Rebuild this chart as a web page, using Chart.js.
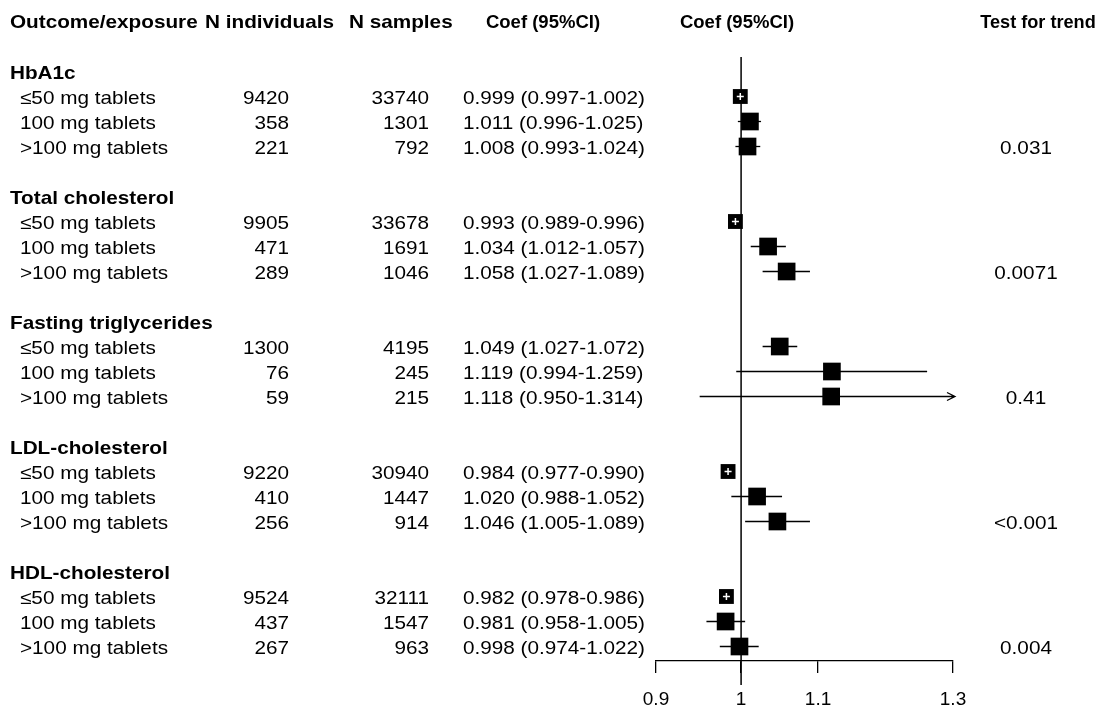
<!DOCTYPE html>
<html>
<head>
<meta charset="utf-8">
<script src="https://cdn.jsdelivr.net/npm/chart.js@4"></script>
<style>
  body { margin: 0; background: #fff; }
  #wrap { width: 1110px; height: 709px; position: relative; }
</style>
</head>
<body>
<div id="wrap"><canvas id="forest"></canvas></div>
<script>
// table data
var outcomes = ["HbA1c", "Total cholesterol", "Fasting triglycerides", "LDL-cholesterol", "HDL-cholesterol"];
var doses = ["≤50 mg tablets", "100 mg tablets", ">100 mg tablets"];
var nIndividuals = [9420, 358, 221, 9905, 471, 289, 1300, 76, 59, 9220, 410, 256, 9524, 437, 267];
var nSamples = [33740, 1301, 792, 33678, 1691, 1046, 4195, 245, 215, 30940, 1447, 914, 32111, 1547, 963];
var coef  = [0.999, 1.011, 1.008, 0.993, 1.034, 1.058, 1.049, 1.119, 1.118, 0.984, 1.020, 1.046, 0.982, 0.981, 0.998];
var lower = [0.997, 0.996, 0.993, 0.989, 1.012, 1.027, 1.027, 0.994, 0.950, 0.977, 0.988, 1.005, 0.978, 0.958, 0.974];
var upper = [1.002, 1.025, 1.024, 0.996, 1.057, 1.089, 1.072, 1.259, 1.314, 0.990, 1.052, 1.089, 0.986, 1.005, 1.022];
var trend = ["0.031", "0.0071", "0.41", "<0.001", "0.004"];
var xTicks = [0.9, 1, 1.1, 1.3];

// row index of each line in the table (header = 0, one blank row between groups)
function groupRow(g) { return 2 + g * 5; }
function itemRow(i) { return groupRow(Math.floor(i / 3)) + 1 + (i % 3); }

var FONT = '"Liberation Sans", Arial, sans-serif';
var ROW0 = 21.5, ROWH = 25, TOP = 57, BOTTOM = 661;

function txt(ctx, s, x, y, align, bold, sx) {
  ctx.save();
  ctx.translate(x, y + 2);
  ctx.scale(sx, 1);
  ctx.font = (bold ? "bold " : "") + "18.5px " + FONT;
  ctx.textAlign = align;
  ctx.textBaseline = "middle";
  ctx.fillStyle = "#000";
  ctx.fillText(s, 0, 0);
  ctx.restore();
}

function ciPx(chart, i) {
  var x = chart.scales.x;
  return x.getPixelForValue(upper[i]) - x.getPixelForValue(lower[i]);
}

var ciSets = coef.map(function (c, i) {
  return {
    type: "line",
    data: [{ x: lower[i], y: itemRow(i) }, { x: Math.min(upper[i], 1.3), y: itemRow(i) }],
    borderColor: "#000",
    borderWidth: 1.3,
    pointRadius: 0,
    clip: 4
  };
});

var forestPlugin = {
  id: "forest",
  beforeDatasetsDraw: function (chart) {
    var ctx = chart.ctx, x = chart.scales.x.getPixelForValue(1);
    ctx.save();
    ctx.strokeStyle = "#000";
    ctx.lineWidth = 1.5;
    ctx.beginPath();
    ctx.moveTo(x, chart.chartArea.top);
    ctx.lineTo(x, chart.chartArea.bottom + 24);
    ctx.stroke();
    ctx.restore();
  },
  afterDatasetsDraw: function (chart) {
    var ctx = chart.ctx, xs = chart.scales.x, ys = chart.scales.y;
    ctx.save();
    coef.forEach(function (c, i) {
      var px = xs.getPixelForValue(c), py = ys.getPixelForValue(itemRow(i));
      if (ciPx(chart, i) < 16) {
        ctx.strokeStyle = "#fff";
        ctx.lineWidth = 1.5;
        ctx.beginPath();
        ctx.moveTo(px - 3.5, py); ctx.lineTo(px + 3.5, py);
        ctx.moveTo(px, py - 3.5); ctx.lineTo(px, py + 3.5);
        ctx.stroke();
      }
      if (upper[i] > xs.max) {
        var tip = chart.chartArea.right + 2;
        ctx.strokeStyle = "#000";
        ctx.lineWidth = 1.3;
        ctx.beginPath();
        ctx.moveTo(tip - 8, py - 4); ctx.lineTo(tip, py); ctx.lineTo(tip - 8, py + 4);
        ctx.moveTo(chart.chartArea.right - 2, py); ctx.lineTo(tip, py);
        ctx.stroke();
      }
    });
    ctx.restore();
  },
  afterDraw: function (chart) {
    var ctx = chart.ctx, ys = chart.scales.y;
    var S = 1.12;
    var hy = ys.getPixelForValue(0) - 1;
    txt(ctx, "Outcome/exposure", 10, hy, "left", true, S);
    txt(ctx, "N individuals", 205, hy, "left", true, S);
    txt(ctx, "N samples", 349, hy, "left", true, S);
    txt(ctx, "Coef (95%CI)", 543, hy, "center", true, 1.0);
    txt(ctx, "Coef (95%CI)", 737, hy, "center", true, 1.0);
    txt(ctx, "Test for trend", 1038, hy, "center", true, 0.98);

    outcomes.forEach(function (o, g) {
      txt(ctx, o, 10, ys.getPixelForValue(groupRow(g)), "left", true, S);
      txt(ctx, trend[g], 1026, ys.getPixelForValue(groupRow(g) + 3), "center", false, S);
    });
    coef.forEach(function (c, i) {
      var y = ys.getPixelForValue(itemRow(i));
      txt(ctx, doses[i % 3], 20, y, "left", false, S);
      txt(ctx, String(nIndividuals[i]), 289, y, "right", false, S);
      txt(ctx, String(nSamples[i]), 429, y, "right", false, S);
      var s = c.toFixed(3) + " (" + lower[i].toFixed(3) + "-" + upper[i].toFixed(3) + ")";
      txt(ctx, s, 463, y, "left", false, S);
    });
  }
};

new Chart("forest", {
  type: "scatter",
  data: {
    datasets: [{
      data: coef.map(function (c, i) { return { x: c, y: itemRow(i) }; }),
      pointStyle: "rect",
      backgroundColor: "#000",
      borderWidth: 0,
      pointRadius: function (ctx) {
        return ciPx(ctx.chart, ctx.dataIndex) < 16 ? 10.5 : 12.5;
      },
      clip: false
    }].concat(ciSets)
  },
  options: {
    animation: false,
    responsive: true,
    maintainAspectRatio: false,
    events: [],
    layout: { padding: { left: 656, right: 157, top: TOP, bottom: 0 } },
    plugins: { legend: { display: false }, tooltip: { enabled: false } },
    scales: {
      x: {
        type: "logarithmic",
        min: 0.9,
        max: 1.3,
        afterBuildTicks: function (s) { s.ticks = xTicks.map(function (v) { return { value: v }; }); },
        afterFit: function (s) { s.height = 709 - BOTTOM; },
        border: { display: true, color: "#000", width: 1.3 },
        grid: { drawOnChartArea: false, drawTicks: true, tickLength: 12, color: "#000", lineWidth: 1.3 },
        ticks: {
          color: "#000",
          padding: 15,
          maxRotation: 0,
          autoSkip: false,
          font: { family: FONT, size: 19 },
          callback: function (v) { return String(v); }
        }
      },
      y: {
        type: "linear",
        reverse: true,
        display: false,
        min: (TOP - ROW0) / ROWH,
        max: (BOTTOM - ROW0) / ROWH
      }
    }
  },
  plugins: [forestPlugin]
});
</script>
</body>
</html>
